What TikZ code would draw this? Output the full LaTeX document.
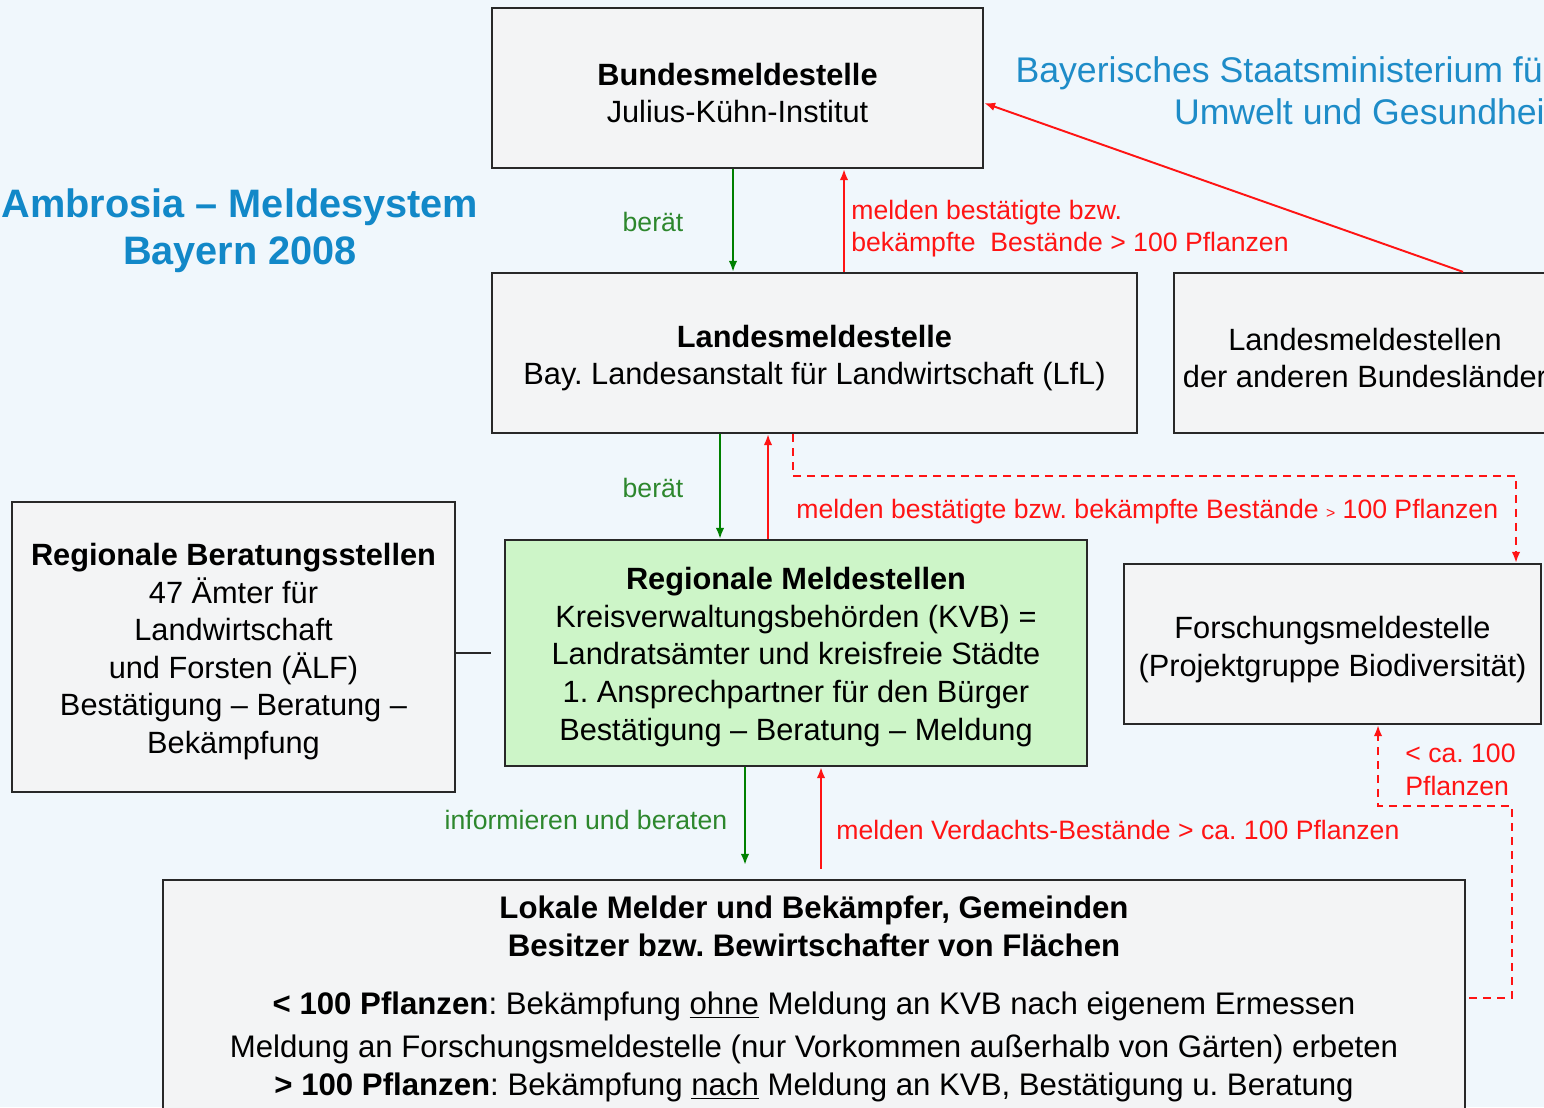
\documentclass[tikz,border=0pt]{standalone}
\usepackage{fontspec}
\setmainfont{Liberation Sans}
\usetikzlibrary{arrows.meta,fit,calc}
\definecolor{bgc}{RGB}{240,247,252}
\definecolor{boxfill}{RGB}{243,244,245}
\definecolor{meldfill}{RGB}{205,245,200}
\definecolor{boxline}{RGB}{40,40,40}
\definecolor{titleblue}{RGB}{18,136,200}
\definecolor{minblue}{RGB}{30,140,200}
\definecolor{lblgreen}{RGB}{45,135,45}
\definecolor{arrgreen}{RGB}{0,128,0}
\definecolor{myred}{RGB}{255,20,20}
\newcommand{\mybody}{\fontsize{17.5}{21.4}\selectfont}
\newcommand{\mylokal}{\fontsize{17.75}{21.4}\selectfont}
\newcommand{\mylabel}{\fontsize{15.15}{18.2}\selectfont}
\newcommand{\mytitle}{\fontsize{22.6}{26.8}\selectfont\bfseries}
\newcommand{\myminfont}{\fontsize{20.3}{23.9}\selectfont}
\frenchspacing
\begin{document}
\frenchspacing
\begin{tikzpicture}[x=0.02cm,y=-0.02cm,
  box/.style={draw=boxline, line width=1.3pt, fill=boxfill, inner sep=0pt},
  greenbox/.style={box, fill=meldfill},
  boxtext/.style={align=center, font=\mybody, inner sep=0pt},
  glabel/.style={text=lblgreen, font=\mylabel, inner sep=0pt},
  rlabel/.style={text=myred, font=\mylabel, inner sep=0pt, align=left},
  garrow/.style={draw=arrgreen, line width=1.1pt, -{Latex[length=0.22cm,width=0.17cm]}},
  rarrow/.style={draw=myred, line width=1.1pt, -{Latex[length=0.22cm,width=0.17cm]}},
  rdash/.style={rarrow, dash pattern=on 0.16cm off 0.12cm},
]
\useasboundingbox (0,0) rectangle (1544,1107);
\fill[bgc] (0,0) rectangle (1544,1107);
\clip (0,0) rectangle (1544,1107);

% title texts
\node[text=titleblue, font=\mytitle, align=center, inner sep=0pt] (title) at (240,231) {Ambrosia -- Meldesystem\\Bayern 2008};
\node[text=minblue, font=\myminfont, align=right, anchor=east, inner sep=0pt] (minist) at (1555,91) {Bayerisches Staatsministerium für\\Umwelt und Gesundheit};

% boxes
\node[box, fit={(492,8) (983,168)}] (bund) {};
\node[box, fit={(492,273) (1137,433)}] (landes) {};
\node[box, fit={(1174,273) (1556,433)}] (andere) {};
\node[box, fit={(12,502) (455,792)}] (berat) {};
\node[greenbox, fit={(505,540) (1087,766)}] (meld) {};
\node[box, fit={(1124,564) (1541,724)}] (forsch) {};
\node[box, fit={(163,880) (1465,1140)}] (lokal) {};

% box texts
\node[boxtext] (bundt) at (737.5,93) {\textbf{Bundesmeldestelle}\\Julius-Kühn-Institut};
\node[boxtext] (landest) at (814.5,358) {\textbf{Landesmeldestelle}\\Bay. Landesanstalt für Landwirtschaft (LfL)};
\node[boxtext] (anderet) at (1365,358) {Landesmeldestellen\\der anderen Bundesländer};
\node[boxtext] (beratt) at (233.5,651.5) {\textbf{Regionale Beratungsstellen}\\47 Ämter für\\Landwirtschaft\\und Forsten (ÄLF)\\Bestätigung -- Beratung --\\Bekämpfung};
\node[boxtext] (meldt) at (796,657) {\textbf{Regionale Meldestellen}\\Kreisverwaltungsbehörden (KVB) =\\Landratsämter und kreisfreie Städte\\1. Ansprechpartner für den Bürger\\Bestätigung -- Beratung -- Meldung};
\node[boxtext] (forscht) at (1332.5,649.5) {Forschungsmeldestelle\\(Projektgruppe Biodiversität)};
\node[boxtext, font=\mylokal] (loktxt) at (814,999) {\textbf{Lokale Melder und Bekämpfer, Gemeinden}\\\textbf{Besitzer bzw. Bewirtschafter von Flächen}\\[12pt]\textbf{< 100 Pflanzen}: Bekämpfung \underline{ohne} Meldung an KVB nach eigenem Ermessen\\[3pt]Meldung an Forschungsmeldestelle (nur Vorkommen außerhalb von Gärten) erbeten\\\textbf{> 100 Pflanzen}: Bekämpfung \underline{nach} Meldung an KVB, Bestätigung u. Beratung};

% helper coordinates
\coordinate (c1) at (733,0);
\coordinate (c2) at (844,0);
\coordinate (c3) at (1463,103);
\coordinate (c4) at (720,0);
\coordinate (c5) at (768,0);
\coordinate (c6) at (793,476);
\coordinate (c6b) at (1516,476);
\coordinate (c8) at (745,0);
\coordinate (c9) at (821,0);
\coordinate (c10a) at (1512,998);
\coordinate (c10b) at (1512,806);
\coordinate (c10c) at (1378,806);

% connectors
\draw[garrow] (bund.south -| c1) -- (landes.north -| c1);
\draw[rarrow] (landes.north -| c2) -- (bund.south -| c2);
\draw[rarrow] (andere.north -| c3) -- (bund.east |- c3);
\draw[garrow] (landes.south -| c4) -- (meld.north -| c4);
\draw[rarrow] (meld.north -| c5) -- (landes.south -| c5);
\draw[rdash] (landes.south -| c6) -- (c6) -- (c6b) -- (forsch.north -| c6b);
\draw[line width=1.3pt, draw=boxline, shorten >=0.26cm] (berat.east |- meld.west) -- (meld.west);
\draw[garrow, shorten >=0.28cm] (meld.south -| c8) -- (lokal.north -| c8);
\draw[rarrow, shorten <=0.2cm] (lokal.north -| c9) -- (meld.south -| c9);
\draw[rdash, shorten <=0.06cm] (lokal.east |- c10a) -- (c10a) -- (c10b) -- (c10c) -- (forsch.south -| c10c);

% labels
\node[glabel] (lb1) at (653,222) {berät};
\node[rlabel, anchor=west] (lr1) at (851,229) {melden bestätigte bzw.\\bekämpfte\ \ Bestände > 100 Pflanzen};
\node[glabel] (lb2) at (653,488) {berät};
\node[rlabel, anchor=west] (lr2) at (796,512) {melden bestätigte bzw. bekämpfte Bestände {\fontsize{9}{10}\selectfont >} 100 Pflanzen};
\node[glabel] (lb3) at (586,820) {informieren und beraten};
\node[rlabel, anchor=west] (lr3) at (836,830) {melden Verdachts-Bestände > ca. 100 Pflanzen};
\node[rlabel, anchor=west, font=\fontsize{15.15}{18.8}\selectfont] (lr4) at (1405,770) {< ca. 100\\Pflanzen};
\end{tikzpicture}
\end{document}
